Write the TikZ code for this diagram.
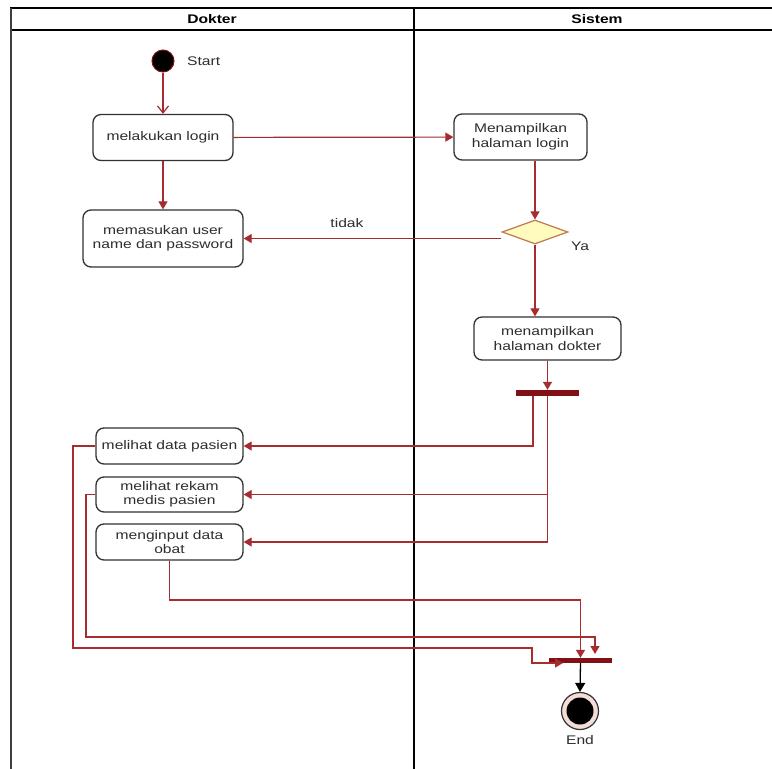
\documentclass[tikz,border=0pt]{standalone}
\usepackage{fontspec}
\setmainfont[FakeStretch=1.25]{Liberation Sans}
\usetikzlibrary{arrows.meta,shapes.geometric,calc}
\definecolor{flow}{RGB}{165,45,45}
\definecolor{bar}{RGB}{130,15,20}
\definecolor{boxline}{RGB}{50,50,50}
\definecolor{txt}{RGB}{45,45,45}
\definecolor{decfill}{RGB}{255,250,190}
\definecolor{decline}{RGB}{190,120,80}
\definecolor{endfill}{RGB}{245,220,215}
\tikzset{
 act/.style={draw=boxline, line width=1.3pt, rounded corners=8pt, fill=white, align=center, inner sep=0pt, text=txt, font=\fontsize{12.5}{14.5}\selectfont},
 flowline/.style={draw=flow, line width=1.2pt, -{Triangle[length=8pt,width=9pt]}},
 barbox/.style={fill=bar, draw=none, minimum width=63pt, minimum height=6pt, inner sep=0pt},
 lbl/.style={text=txt, font=\fontsize{12.5}{14.5}\selectfont, inner sep=0pt},
 hdr/.style={text=black, font=\fontsize{12.5}{14}\selectfont\bfseries, inner sep=0pt},
}
\begin{document}
\begin{tikzpicture}[x=1pt,y=-1pt]
\useasboundingbox[fill=white] (0,0) rectangle (772,769);
% swimlane frame
\draw[line width=1.5pt] (10,8) -- (772,8);
\draw[line width=1.5pt] (10,30) -- (772,30);
\draw[line width=2pt, black!75] (11,8) -- (11,769);
\draw[line width=2.6pt] (414,8) -- (414,769);
\node[hdr] (h1) at (212,19) {Dokter};
\node[hdr] (h2) at (597,19) {Sistem};
% nodes
\node[circle, fill=black, draw=bar, line width=1pt, minimum size=22pt, inner sep=0pt] (start) at (163,61) {};
\node[lbl, anchor=west] (startlbl) at (187,61) {Start};
\node[act, minimum width=140pt, minimum height=46pt] (login) at (163,137.5) {melakukan login};
\node[act, minimum width=160pt, minimum height=57pt] (masuk) at (163,238.5) {memasukan user\\name dan password};
\node[act, minimum width=133pt, minimum height=46pt] (tampil) at (520.5,137) {Menampilkan\\halaman login};
\node[diamond, draw=decline, fill=decfill, line width=1.2pt, minimum width=66pt, minimum height=24pt, inner sep=0pt] (dec) at (535,232) {};
\node[act, minimum width=147pt, minimum height=43pt] (dokter) at (547.5,338.5) {menampilkan\\halaman dokter};
\node[barbox] (fork) at (547.5,393) {};
\node[act, minimum width=147pt, minimum height=36pt] (pasien) at (169.5,446) {melihat data pasien};
\node[act, minimum width=147pt, minimum height=35pt] (rekam) at (169.5,494.5) {melihat rekam\\medis pasien};
\node[act, minimum width=147pt, minimum height=36pt] (obat) at (169.5,542) {menginput data\\obat};
\node[barbox, minimum height=5pt] (join) at (580.5,660.5) {};
\node[circle, draw=black!80, fill=endfill, line width=1.2pt, minimum size=37pt, inner sep=0pt] (end) at (580,711) {};
\node[circle, fill=black, minimum size=27pt, inner sep=0pt] (endin) at (end.center) {};
\node[lbl] (endlbl) at (580,740) {End};
\node[lbl] (tidak) at (347,223) {tidak};
\node[lbl] (ya) at (580,246) {Ya};
% coordinates for routing
\coordinate (f1) at (533,396);
\coordinate (p1) at (73,446);
\coordinate (p2) at (73,648);
\coordinate (p3) at (532,648);
\coordinate (p4) at (532,663);
\coordinate (p5) at (563,663);
\coordinate (r1) at (86,494.5);
\coordinate (r2) at (86,637);
\coordinate (r3) at (595,637);
\coordinate (r4) at (595,654);
\coordinate (o1) at (169.5,600);
% connectors
\draw[draw=flow, line width=1.2pt, -{Straight Barb[length=7pt,width=11pt]}] (start) -- (login);
\draw[flowline] (login) -- (masuk);
\draw[flowline] (login) -- (tampil);
\draw[flowline] (dec.north |- tampil.south) -- (dec.north);
\draw[flowline] (dec.west |- masuk.east) -- (masuk.east);
\draw[flowline] (dec.south) -- (dec.south |- dokter.north);
\draw[flowline] (dokter) -- (fork);
\draw[flowline] (f1) |- (pasien.east);
\draw[flowline] (fork.south) |- (rekam.east);
\draw[flowline] (fork.south) |- (obat.east);
\draw[flowline] (obat.south) -- (o1) -| (join.north);
\draw[flowline] (rekam.west) -- (r1) -- (r2) -- (r3) -- (r4);
\draw[flowline] (pasien.west) -- (p1) -- (p2) -- (p3) -- (p4) -- (p5);
\draw[draw=black, line width=1.3pt, -{Triangle[length=9pt,width=10pt]}] (join.south) -- (end.north);
\end{tikzpicture}
\end{document}
